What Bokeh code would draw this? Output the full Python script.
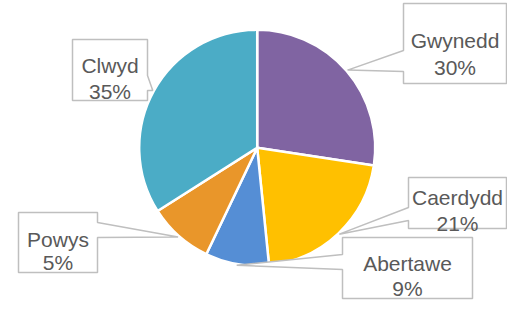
import math
from bokeh.plotting import figure
from bokeh.models import Range1d, ColumnDataSource
from bokeh.core.properties import value
from bokeh.embed import file_html
from bokeh.resources import INLINE

# ---- data ----
regions = ["Gwynedd", "Caerdydd", "Abertawe", "Powys", "Clwyd"]
shares = [27.4, 21.0, 8.7, 8.9, 34.0]          # slice sizes as drawn
pct_labels = ["30%", "21%", "9%", "5%", "35%"]  # label texts as printed
colors = ["#8064A2", "#FFC000", "#558ED5", "#E9962A", "#4BACC6"]

# ---- layout (pixel coordinates, y downwards) ----
W, H = 507, 300
def sy(y):
    return H - y

CX, CY, R = 256.7, 147.3, 118
# boxes: x0, x1, y0, y1, pointer side, base y0, base y1, baseline1, baseline2
boxes = {
    "Gwynedd": (403, 506, 3, 83, "left", 50, 71, 40, 67),
    "Caerdydd": (408, 506, 177, 228, "left", 207, 220, 197, 223),
    "Abertawe": (342, 472, 237, 298, "left", 254, 269, 263, 288),
    "Powys": (18, 97, 212, 272, "right", 222, 237, 239, 262),
    "Clwyd": (72, 147, 39, 100, "right", 75, 90, 65, 91),
}

p = figure(width=W, height=H, output_backend="svg", toolbar_location=None,
           x_range=Range1d(0, W), y_range=Range1d(0, H),
           min_border=0)
p.axis.visible = False
p.grid.visible = False
p.outline_line_color = None
p.background_fill_color = "white"
p.border_fill_color = "white"

total = sum(shares)
starts, ends, mids = [], [], []
acc = 0.0
for s in shares:
    a0 = acc / total
    acc += s
    a1 = acc / total
    starts.append(math.pi / 2 - 2 * math.pi * a0)
    ends.append(math.pi / 2 - 2 * math.pi * a1)
    mids.append(2 * math.pi * (a0 + a1) / 2)

src = ColumnDataSource(dict(x=[CX] * len(shares), y=[sy(CY)] * len(shares),
                            start=starts, end=ends, color=colors))
p.wedge(x="x", y="y", radius=R, start_angle="start", end_angle="end",
        direction="clock", fill_color="color", line_color="white",
        line_width=2.5, source=src)

xs, ys = [], []
tx, ty, tt = [], [], []
for name, pct, th in zip(regions, pct_labels, mids):
    x0, x1, y0, y1, side, b0, b1, l1, l2 = boxes[name]
    tipx = CX + R * 1.01 * math.sin(th)
    tipy = CY - R * 1.01 * math.cos(th)
    if side == "left":
        pts = [(x0, y0), (x1, y0), (x1, y1), (x0, y1), (x0, b1), (tipx, tipy), (x0, b0)]
    else:
        pts = [(x0, y0), (x1, y0), (x1, b0), (tipx, tipy), (x1, b1), (x1, y1), (x0, y1)]
    xs.append([q[0] for q in pts])
    ys.append([sy(q[1]) for q in pts])
    cxb = (x0 + x1) / 2
    tx += [cxb, cxb]
    ty += [sy(l1), sy(l2)]
    tt += [name, pct]

p.patches(xs=xs, ys=ys, fill_color="white", line_color="#BFBFBF", line_width=1.5)
p.text(x=tx, y=ty, text=tt, text_align="center", text_baseline="alphabetic",
       text_font=value("Liberation Sans"), text_font_size="21px",
       text_color="#595959")

open("out.html", "w").write(file_html(p, INLINE))
